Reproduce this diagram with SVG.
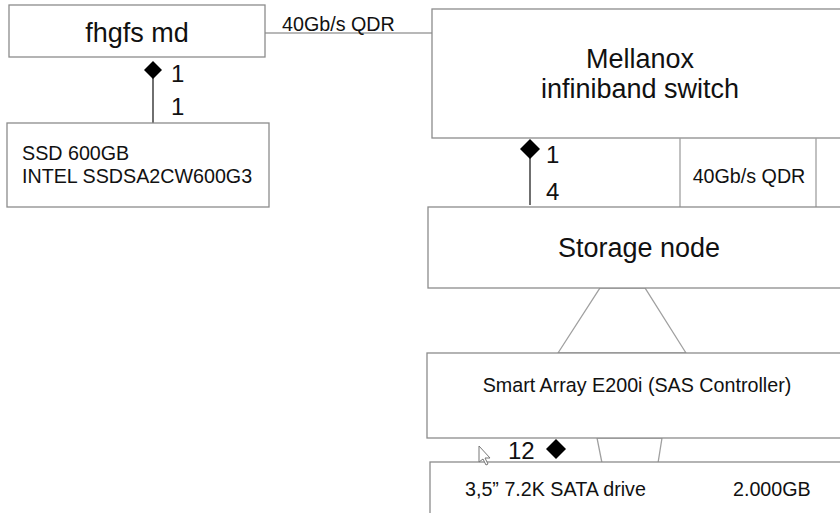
<svg xmlns="http://www.w3.org/2000/svg" width="840" height="513" viewBox="0 0 840 513">
<style>
.box{fill:#fff;stroke:#8c8c8c;stroke-width:1.3}
.t{font-family:"Liberation Sans",Arial,sans-serif;fill:#111}
.big{font-size:27px}
.sm{font-size:19.7px}
.num{font-size:24px}
.ln{stroke:#222;stroke-width:1.3;fill:none}
.gl{stroke:#a0a0a0;stroke-width:1.3;fill:none}
.dia{fill:#000}
</style>
<rect width="840" height="513" fill="#fff"/>
<g id="connectors">
<line class="gl" x1="265" y1="33" x2="432" y2="33"/>
<text class="t sm" x="282" y="31">40Gb/s QDR</text>
<line class="ln" x1="153" y1="70" x2="153" y2="123"/>
<polygon class="dia" points="153,61 162,70 153,79 144,70"/>
<text class="t num" x="171" y="82">1</text>
<text class="t num" x="171" y="115">1</text>
<line class="ln" x1="530" y1="149" x2="530" y2="205"/>
<polygon class="dia" points="530,139 540,149 530,159 520,149"/>
<text class="t num" x="546" y="163">1</text>
<text class="t num" x="546" y="200">4</text>
<polygon class="gl" points="600,288 645,288 686,353 558,353"/>
<polygon class="gl" points="597,438 662,438 658,463 602,463"/>
<text class="t num" x="508" y="459">12</text>
<polygon class="dia" points="556,439 566,449 556,459 546,449"/>
</g>
<g id="fhgfs-md">
<rect class="box" x="9" y="5" width="256" height="52"/>
<text class="t big" x="137" y="42" text-anchor="middle">fhgfs md</text>
</g>
<g id="ssd">
<rect class="box" x="7" y="123" width="262" height="84"/>
<text class="t sm" x="22" y="160">SSD 600GB</text>
<text class="t sm" x="22" y="183">INTEL SSDSA2CW600G3</text>
</g>
<g id="mellanox">
<rect class="box" x="432" y="9" width="420" height="129"/>
<text class="t big" x="640" y="68" text-anchor="middle">Mellanox</text>
<text class="t big" x="640" y="98" text-anchor="middle">infiniband switch</text>
<line class="gl" x1="680" y1="138" x2="680" y2="207"/>
<line class="gl" x1="816" y1="138" x2="816" y2="207"/>
<text class="t sm" x="749" y="183" text-anchor="middle">40Gb/s QDR</text>
</g>
<g id="storage-node">
<rect class="box" x="428" y="207" width="424" height="81"/>
<text class="t big" x="639" y="257" text-anchor="middle">Storage node</text>
</g>
<g id="smart-array">
<rect class="box" x="427" y="353" width="425" height="85"/>
<text class="t sm" x="637" y="392" text-anchor="middle">Smart Array E200i (SAS Controller)</text>
</g>
<g id="sata-drive">
<rect class="box" x="430" y="462" width="422" height="60"/>
<text class="t sm" x="465" y="496">3,5” 7.2K SATA drive</text>
<text class="t sm" x="733" y="496">2.000GB</text>
</g>
<polygon points="479,446 479,462 483,459 486,465 488,464 485,458 490,458" fill="#fff" stroke="#777" stroke-width="1"/>
</svg>
